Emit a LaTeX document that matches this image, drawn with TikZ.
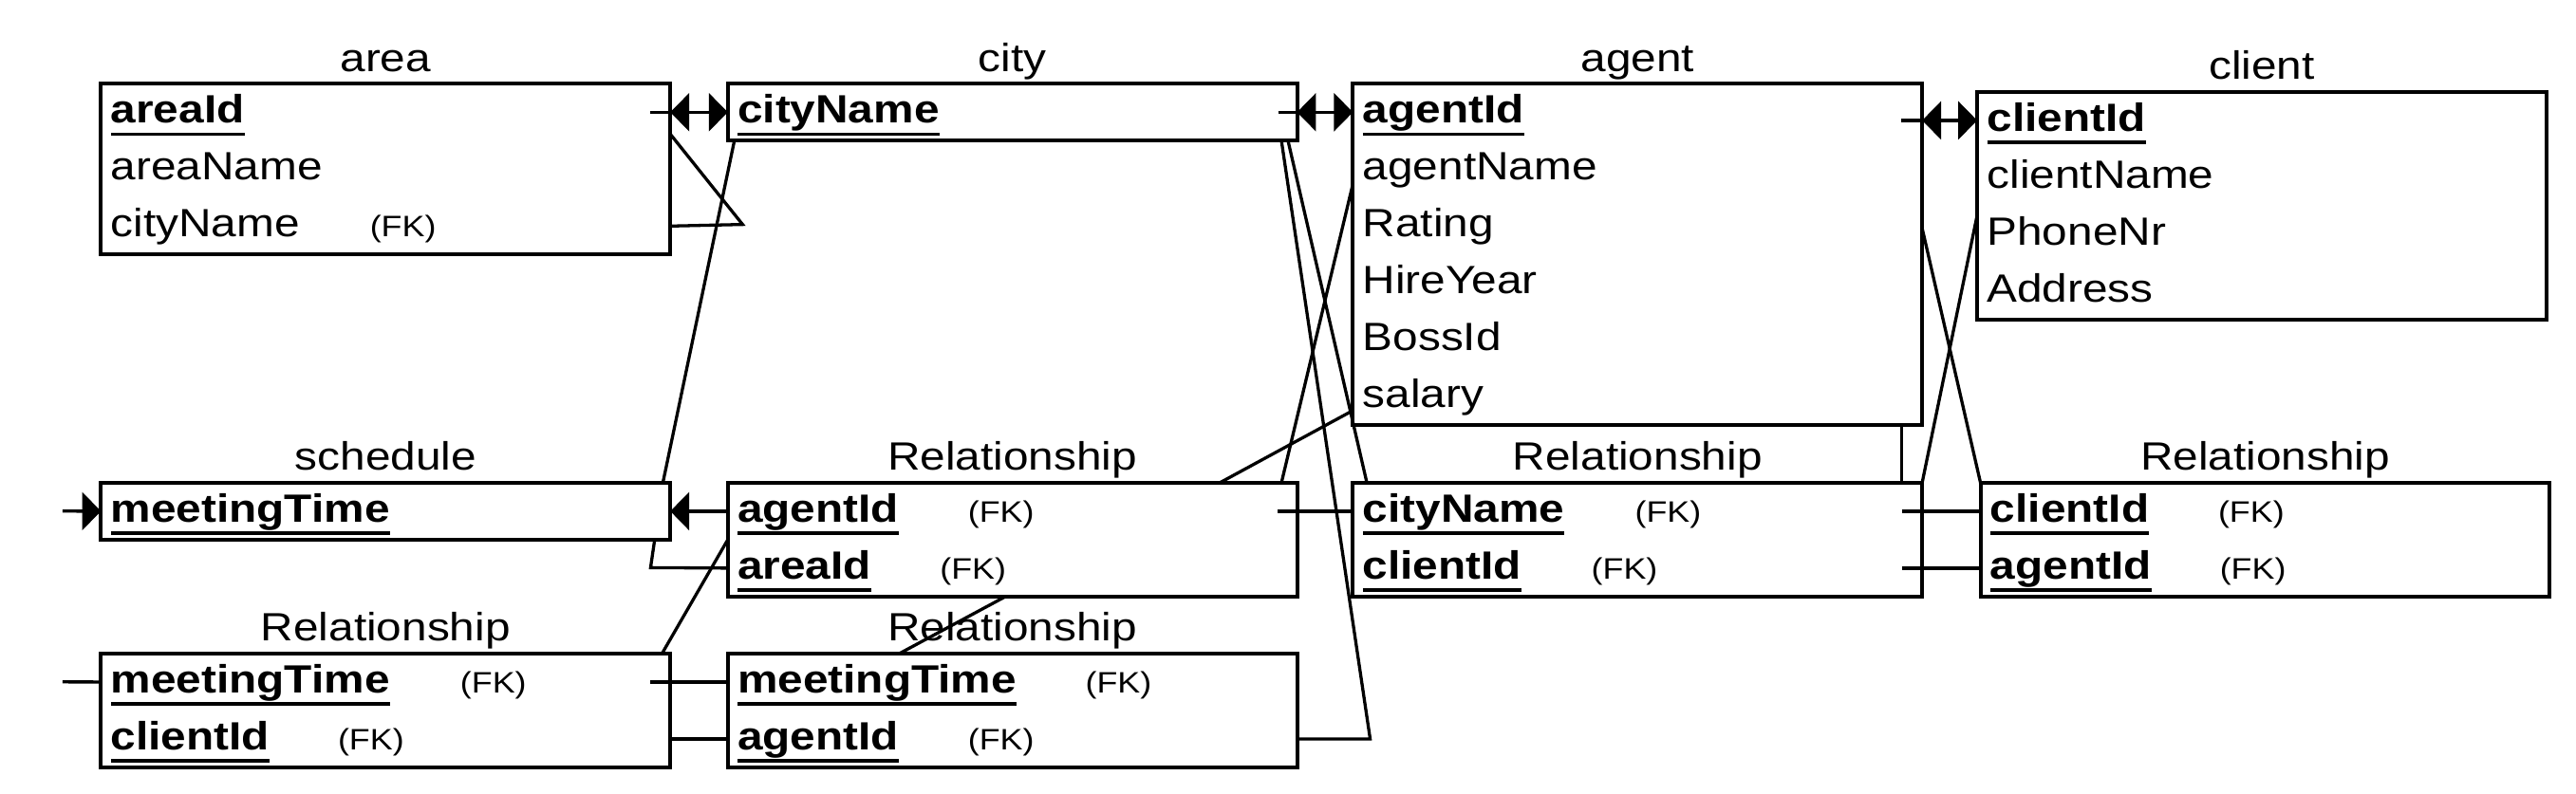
\documentclass[tikz,border=0pt]{standalone}
\usepackage{fontspec}
\setmainfont{Liberation Sans}[FakeStretch=1.15]
\usetikzlibrary{calc,arrows.meta}
\tikzset{
  entbox/.style={draw, line width=2.3pt, rectangle, minimum width=346.5pt, inner sep=0pt, outer sep=0pt},
  rowbox/.style={rectangle, minimum width=346.5pt, minimum height=34.67pt, inner sep=0pt, outer sep=0pt},
  attrtext/.style={anchor=base west, inner sep=0pt, outer sep=0pt, font=\fontsize{24}{28}\selectfont},
  keyattr/.style={anchor=base west, inner sep=0pt, outer sep=0pt, font=\fontsize{24}{28}\selectfont\bfseries},
  fktext/.style={anchor=base west, inner sep=0pt, font=\fontsize{18}{22}\selectfont},
  ttl/.style={anchor=base, inner sep=0pt, font=\fontsize{24}{28}\selectfont},
  conn/.style={line width=1.9pt},
  uline/.style={line width=2.2pt},
  tri/.tip={Triangle[length=11.5pt,width=23pt]},
}
\newcommand\mkent[5]{%
  \node[entbox, minimum height=#4pt, anchor=north west] (#1) at (#2,#3) {};
  \node[ttl] (#1-t) at ($(#1.north)+(0,-7.5)$) {#5};
}
\newcommand\mkrow[3]{%
  \node[rowbox, anchor=north west] (#1-#2) at ($(#1.north west)+(0,{(#2-1)*34.67})$) {};
  \node[attrtext] (#1-#2-x) at ($(#1-#2.north west)+(6,24)$) {#3};
}
\newcommand\mkkey[3]{%
  \node[rowbox, anchor=north west] (#1-#2) at ($(#1.north west)+(0,{(#2-1)*34.67})$) {};
  \node[keyattr] (#1-#2-x) at ($(#1-#2.north west)+(6,24)$) {#3};
  \draw[uline] ($(#1-#2-x.base west)+(0,6.7)$) -- ($(#1-#2-x.base east)+(0,6.7)$);
}
\newcommand\mkfk[2]{%
  \node[fktext] at ($(#1.north west)+(#2,24)$) {(FK)};
}
\begin{document}
\begin{tikzpicture}[x=1pt,y=-1pt]
\useasboundingbox (0,0) rectangle (1568,483);

% entities
\mkent{area}{61.5}{51}{104}{area}
\mkkey{area}{1}{areaId}
\mkrow{area}{2}{areaName}
\mkrow{area}{3}{cityName}
\mkfk{area-3}{163.5}

\mkent{city}{443}{51}{34.67}{city}
\mkkey{city}{1}{cityName}

\mkent{agent}{823.5}{51}{208}{agent}
\mkkey{agent}{1}{agentId}
\mkrow{agent}{2}{agentName}
\mkrow{agent}{3}{Rating}
\mkrow{agent}{4}{HireYear}
\mkrow{agent}{5}{BossId}
\mkrow{agent}{6}{salary}

\mkent{client}{1203.5}{56}{138.67}{client}
\mkkey{client}{1}{clientId}
\mkrow{client}{2}{clientName}
\mkrow{client}{3}{PhoneNr}
\mkrow{client}{4}{Address}

\mkent{schedule}{61.5}{294}{34.67}{schedule}
\mkkey{schedule}{1}{meetingTime}

\mkent{relA}{443}{294}{69.33}{Relationship}
\mkkey{relA}{1}{agentId}
\mkkey{relA}{2}{areaId}
\mkfk{relA-1}{146}
\mkfk{relA-2}{129}

\mkent{relB}{823.5}{294}{69.33}{Relationship}
\mkkey{relB}{1}{cityName}
\mkkey{relB}{2}{clientId}
\mkfk{relB-1}{171.5}
\mkfk{relB-2}{145}

\mkent{relC}{1205.5}{294}{69.33}{Relationship}
\mkkey{relC}{1}{clientId}
\mkkey{relC}{2}{agentId}
\mkfk{relC-1}{144.5}
\mkfk{relC-2}{145.5}

\mkent{relD}{61.5}{398}{69.33}{Relationship}
\mkkey{relD}{1}{meetingTime}
\mkkey{relD}{2}{clientId}
\mkfk{relD-1}{218.5}
\mkfk{relD-2}{144}

\mkent{relE}{443}{398}{69.33}{Relationship}
\mkkey{relE}{1}{meetingTime}
\mkkey{relE}{2}{agentId}
\mkfk{relE-1}{217.5}
\mkfk{relE-2}{146}

% free ends and bends
\coordinate (schedIn) at (38,311.3);
\coordinate (mtIn) at (38,415.3);
\coordinate (c6) at (396,345.7);
\coordinate (c8) at (452,136.7);
\coordinate (c17) at (834,450);
\coordinate (c3a) at (agent.east |- client-1.west);

% connectors
\draw[conn] ([xshift=-12pt]area-1.east) -- (area-1.east);
\draw[conn, tri-tri] (area-1.east) -- (city-1.west);
\draw[conn] ([xshift=-11.5pt]city-1.east) -- (city-1.east);
\draw[conn, tri-tri] (city-1.east) -- (agent-1.west);
\draw[conn] ([xshift=-13pt]c3a) -- (c3a);
\draw[conn, tri-tri] (c3a) -- (client-1.west);

\draw[conn, -tri] (schedIn) -- (schedule-1.west);
\draw[conn, -tri] (relA-1.west) -- (schedule-1.east);
\draw[conn] ([xshift=-9.5pt]schedule.south east) -- (c6) -- (relA-2.west);
\draw[conn] ([xshift=4pt]city.south west) -- ([xshift=-4.5pt]schedule.north east);
\draw[conn] ([yshift=4pt]area-1.south east) -- (c8) -- (area-3.east);
\draw[conn] ([xshift=-5pt]relD.north east) -- (relA-1.south west);
\draw[conn] ([xshift=-12pt]relD-1.east) -- (relE-1.west);
\draw[conn] (relD-2.east) -- (relE-2.west);
\draw[conn] (mtIn) -- (relD-1.west);

\draw[conn] ([xshift=-12pt]relA-1.east) -- (relB-1.west);
\draw[conn] ([xshift=-47pt]relA.north east) -- ([yshift=9pt]agent.south west);
\draw[conn] ([yshift=-26.3pt]agent-2.north west) -- ([xshift=-9.5pt]relA.north east);
\draw[conn] ([xshift=-5.5pt]city.south east) -- ([xshift=8.5pt]relB.north west);
\draw[conn] ([xshift=-9.5pt]city.south east) -- (c17) -- (relE-2.east);
\draw[conn] ([yshift=-88pt]agent.north east) -- (relC.north west);
\draw[conn] ([yshift=-75pt]client.north west) -- (relB.north east);
\draw[conn] ([xshift=-12.5pt]agent.south east) -- ([xshift=-12.5pt]relB.north east);
\draw[conn] ([xshift=-12.5pt]relB-1.east) -- (relC-1.west);
\draw[conn] ([xshift=-12.5pt]relB-2.east) -- (relC-2.west);
\draw[conn] ([xshift=169pt]relA.south west) -- ([xshift=104.5pt]relE.north west);
\end{tikzpicture}
\end{document}
